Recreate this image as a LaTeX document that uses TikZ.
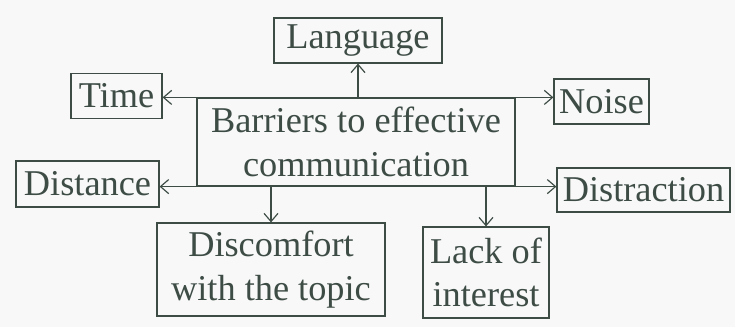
\documentclass[tikz,border=0pt]{standalone}
\usepackage{fontspec}
\setmainfont{Liberation Serif}
\usetikzlibrary{arrows.meta}
\definecolor{ink}{RGB}{62,76,70}
\definecolor{paper}{RGB}{247,248,247}

\begin{document}
\begin{tikzpicture}[x=0.03cm,y=-0.03cm,
        line width=1pt, draw=ink, text=ink,
        >={Straight Barb[length=7pt,width=12pt]},
        bx/.style={draw, inner sep=0pt, align=center,
                font=\fontsize{31}{37}\selectfont}]
        \fill[paper] (0,0) rectangle (735,327);
        \useasboundingbox (0,0) rectangle (735,327);
        % boxes
        \node[bx, minimum width=318*0.03cm, minimum height=88*0.03cm] (ctr) at (356,142) {Barriers to effective\\communication};
        \node[bx, minimum width=168*0.03cm, minimum height=45*0.03cm] (lang) at (358,40.5) {Language};
        \node[bx, minimum width=91*0.03cm, minimum height=45*0.03cm] (tm) at (116.5,96) {Time};
        \node[bx, minimum width=95*0.03cm, minimum height=45*0.03cm] (noise) at (601.5,101.5) {Noise};
        \node[bx, minimum width=143*0.03cm, minimum height=46*0.03cm] (dist) at (87.5,184) {Distance};
        \node[bx, minimum width=173*0.03cm, minimum height=44*0.03cm] (distr) at (643.5,190) {Distraction};
        \node[bx, minimum width=228*0.03cm, minimum height=93*0.03cm] (dc) at (271,269.5) {Discomfort\\with the topic};
        \node[bx, minimum width=126*0.03cm, minimum height=91*0.03cm] (lack) at (486,272.5) {Lack of\\interest};
        % arrows
        \draw[->] (ctr.north -| lang.south) -- (lang.south);
        \draw[->] (ctr.north west) -- (ctr.north west -| tm.east);
        \draw[->] (ctr.north east) -- (ctr.north east -| noise.west);
        \draw[->] (ctr.south west) -- (ctr.south west -| dist.east);
        \draw[->] (ctr.south east) -- (ctr.south east -| distr.west);
        \draw[->] (ctr.south -| dc.north) -- (dc.north);
        \draw[->] (ctr.south -| lack.north) -- (lack.north);
\end{tikzpicture}
\end{document}
